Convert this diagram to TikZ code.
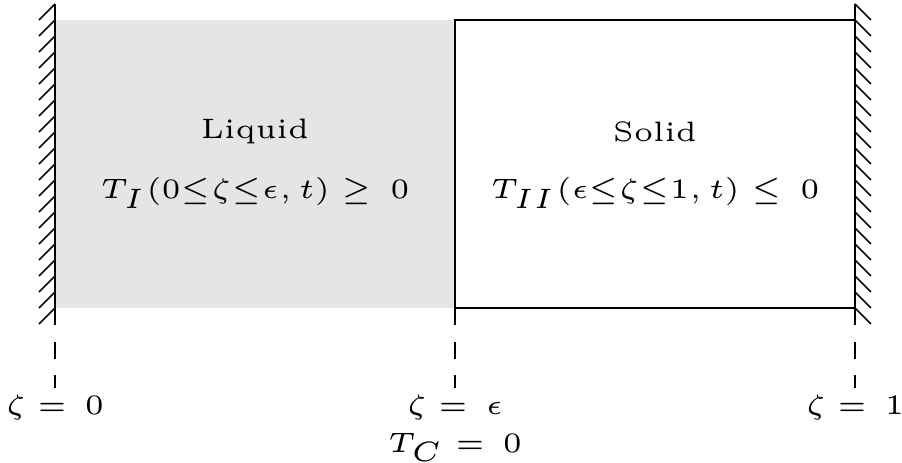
\documentclass[tikz,border=0pt]{standalone}
\usetikzlibrary{positioning}

\begin{document}
\begin{tikzpicture}

\useasboundingbox (-0.344,-0.969) rectangle (5.294,1.925);

%% 色
\fill[black!10] (0,0) rectangle (2.5,1.8);

%% 線
\draw[line width=0.3pt] (2.5,0) rectangle (5,1.8);

%% 壁
\draw[line width=0.5pt] (0,-0.1) --(0,1.9);
\draw[line width=0.5pt] (5,-0.1) --(5,1.9);
\foreach \i in {0,...,19} {
  \draw[line width=0.3pt] (0,1.9-0.1*\i) --++(-0.1,-0.1);
  \draw[line width=0.3pt] (5,1.9-0.1*\i) --++(0.1,-0.1);
}

%% 文字
\node[font=\tiny] (liquid) at (1.25,1.1) {Liquid};
\node[font=\tiny] (solid) at (3.75,1.1) {Solid};
\node[font=\tiny] (TI) at (1.25,0.72) {$T_I(0{\leq}\zeta{\leq}\epsilon, t) \geq \,0$};
\node[font=\tiny] (TII) at (3.75,0.72) {$T_{II}(\epsilon{\leq}\zeta{\leq}1, t) \leq \,0$};

%% 目盛り
\node[font=\tiny, anchor=north, inner sep=1pt] (z0) at (0,-0.5) {$\zeta = \,0$};
\node[font=\tiny, anchor=north, inner sep=1pt] (ze) at (2.5,-0.5) {$\zeta = \,\epsilon$};
\node[font=\tiny, anchor=north, inner sep=1pt] (z1) at (5,-0.5) {$\zeta = \,1$};
\node[font=\tiny, below=0pt of ze, inner sep=1pt] (TC) {$T_C = \,0$};

\draw[dashed, line width=0.3pt] (0,0) --(z0);
\draw[dashed, line width=0.3pt] (2.5,0) --(ze);
\draw[dashed, line width=0.3pt] (5,0) --(z1);

\end{tikzpicture}
\end{document}
